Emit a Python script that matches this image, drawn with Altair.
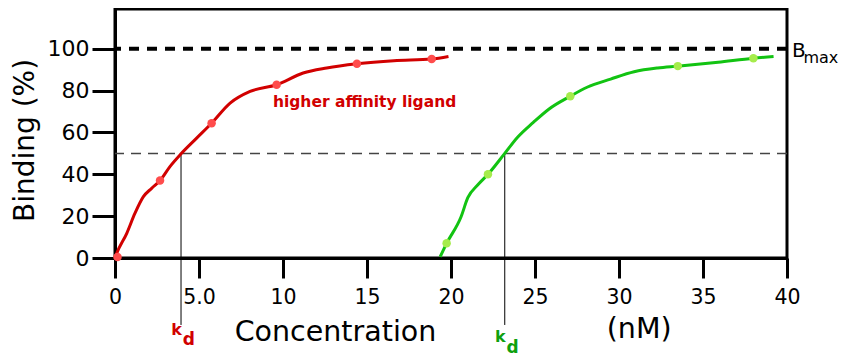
import altair as alt
import pandas as pd

# ---- data ----
red_line_x = [0, 0.1, 0.7, 1.19, 1.69, 2.18, 2.68, 3.27, 3.93, 4.86, 5.75, 6.85, 8.04, 9.62, 11.2, 12.6, 14.4, 16.6, 18.85, 19.85]
red_line_y = [0, 2.2, 11.8, 21.4, 29.3, 33.3, 37, 43.7, 49.8, 57.3, 64.4, 74, 79.6, 82.8, 88.4, 90.8, 92.8, 94.3, 95.1, 96.3]
red_pts_x = [0.15, 2.68, 5.75, 9.62, 14.4, 18.85]
red_pts_y = [0.5, 37, 64.4, 82.8, 92.8, 95.1]

green_line_x = [19.35, 19.74, 20.6, 21.0, 21.6, 22.2, 23.2, 23.95, 24.9, 25.8, 27.1, 28.1, 29.5, 30.9, 32.3, 33.5, 35.9, 38.0, 39.2]
green_line_y = [0.5, 7.0, 19.7, 28.8, 35, 40, 50, 57.6, 64.8, 71, 77.3, 81.6, 85.5, 89.0, 90.8, 91.7, 93.6, 95.5, 96.3]
green_pts_x = [19.74, 22.2, 27.1, 33.5, 38.0]
green_pts_y = [7.0, 40, 77.3, 91.7, 95.5]

x_ticks = [0, 5, 10, 15, 20, 25, 30, 35, 40]
y_ticks = [0, 20, 40, 60, 80, 100]

bmax = 100
half = 50
kd_red = 3.93
kd_green = 23.2
kd_bottom = -32

RED_LINE = "#d10000"
RED_PT = "#ff4c4c"
GREEN_LINE = "#12c312"
GREEN_PT = "#a6ec4c"
GREEN_TXT = "#0ea00e"
FONT = "DejaVu Sans"

red_line = pd.DataFrame({"x": red_line_x, "y": red_line_y})
green_line = pd.DataFrame({"x": green_line_x, "y": green_line_y})
red_pts = pd.DataFrame({"x": red_pts_x, "y": red_pts_y})
green_pts = pd.DataFrame({"x": green_pts_x, "y": green_pts_y})
kd_df = pd.DataFrame({"x": [kd_red, kd_green], "y": [half, half], "y2": [kd_bottom, kd_bottom]})

xs = alt.Scale(domain=[0, 40], nice=False, zero=False)
ys = alt.Scale(domain=[0, 119], nice=False, zero=False)

x_axis = alt.Axis(
    values=x_ticks, labelExpr="datum.value == 5 ? '5.0' : datum.label",
    tickSize=20, tickWidth=3, tickColor="black", domainWidth=3, domainColor="black",
    labelFontSize=20.5, labelFont=FONT, labelColor="black", labelPadding=9,
    labelFlush=False, labelOverlap=False, grid=False,
    title="Concentration", titleFont=FONT, titleFontSize=28.5, titleFontWeight="normal",
    titleColor="black", titleX=220, titleY=82, titleAlign="center", titleBaseline="alphabetic",
    titleAnchor="start",
)
y_axis = alt.Axis(
    values=y_ticks, tickSize=23, tickWidth=3, tickColor="black", domainWidth=3, domainColor="black",
    labelFontSize=22, labelFont=FONT, labelColor="black", labelPadding=3,
    labelFlush=False, labelOverlap=False, grid=False,
    title="Binding (%)", titleFont=FONT, titleFontSize=28, titleFontWeight="normal",
    titleColor="black", titleX=-82, titleY=131, titleAngle=-90, titleAlign="center",
    titleBaseline="alphabetic", titleAnchor="start",
)

base_x = alt.X("x:Q", scale=xs, axis=x_axis)
base_y = alt.Y("y:Q", scale=ys, axis=y_axis)
px = alt.X("x:Q", scale=xs)
py = alt.Y("y:Q", scale=ys)

rule_max = alt.Chart(pd.DataFrame({"y": [bmax]})).mark_rule(
    color="black", strokeWidth=4, strokeDash=[10, 8]
).encode(y=py)
rule_half = alt.Chart(pd.DataFrame({"y": [half]})).mark_rule(
    color="#444444", strokeWidth=1.5, strokeDash=[10, 7]
).encode(y=py)

kd_rules = alt.Chart(kd_df).mark_rule(color="black", strokeWidth=1).encode(x=px, y=py, y2="y2:Q")

red_l = alt.Chart(red_line).mark_line(color=RED_LINE, strokeWidth=3, interpolate="monotone").encode(
    x=base_x, y=base_y)
green_l = alt.Chart(green_line).mark_line(color=GREEN_LINE, strokeWidth=3, interpolate="monotone").encode(
    x=px, y=py)
red_p = alt.Chart(red_pts).mark_circle(color=RED_PT, size=72, opacity=1).encode(x=px, y=py)
green_p = alt.Chart(green_pts).mark_circle(color=GREEN_PT, size=72, opacity=1).encode(x=px, y=py)


def label(df, **kw):
    return alt.Chart(pd.DataFrame(df)).mark_text(font=FONT, baseline="alphabetic", **kw).encode(
        x=px, y=py, text="t:N")


ann = [
    label({"x": [9.4], "y": [72.2], "t": ["higher affinity ligand"]}, align="left",
          fontSize=15.5, fontWeight="bold", color=RED_LINE),
    label({"x": [31.2], "y": [-38.3], "t": ["(nM)"]}, align="center", fontSize=28.5, color="black"),
    label({"x": [40.3], "y": [96.2], "t": ["B"]}, align="left", fontSize=20, color="black"),
    label({"x": [40.98], "y": [93.0], "t": ["max"]}, align="left", fontSize=16, color="black"),
    label({"x": [kd_red + 0.05], "y": [-36.8], "t": ["k"]}, align="right",
          fontSize=16, fontWeight="bold", color=RED_LINE),
    label({"x": [kd_red + 0.1], "y": [-41.8], "t": ["d"]}, align="left",
          fontSize=17, fontWeight="bold", color=RED_LINE),
    label({"x": [kd_green + 0.05], "y": [-40.2], "t": ["k"]}, align="right",
          fontSize=16, fontWeight="bold", color=GREEN_TXT),
    label({"x": [kd_green + 0.1], "y": [-45.3], "t": ["d"]}, align="left",
          fontSize=17, fontWeight="bold", color=GREEN_TXT),
]

chart = alt.layer(
    rule_half, rule_max, kd_rules, red_l, green_l, red_p, green_p, *ann
).properties(
    width=672, height=249,
    autosize=alt.AutoSizeParams(type="none"),
    padding={"left": 107, "top": 1, "right": 52, "bottom": 99},
    background="white",
).configure_view(stroke="black", strokeWidth=3)

chart.save("out.html", embed_options={"renderer": "svg", "actions": False})
